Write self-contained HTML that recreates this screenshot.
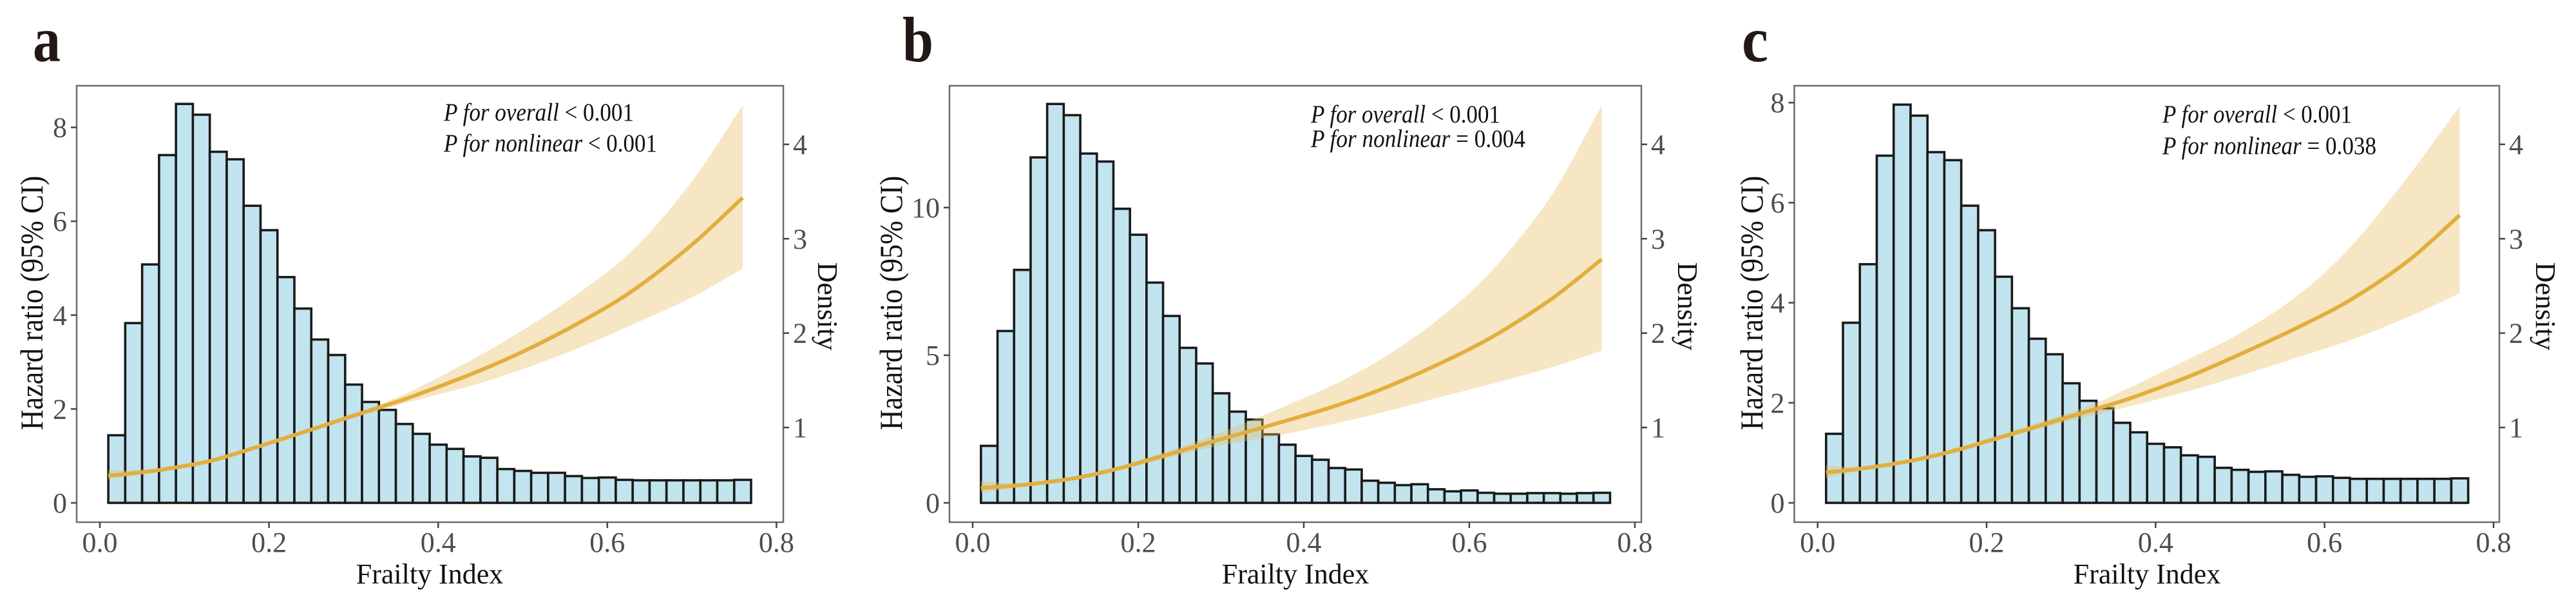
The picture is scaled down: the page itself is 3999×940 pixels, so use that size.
<!DOCTYPE html>
<html lang="en">
<head>
<meta charset="utf-8">
<title>Frailty Index hazard ratio panels</title>
<style>
html,body{margin:0;padding:0;background:#fff;width:3999px;height:940px;overflow:hidden}
svg{display:block}
text{font-family:"Liberation Serif",serif}
.letter{font-size:100px;font-weight:bold;fill:#231815}
.title{font-size:44px;fill:#111}
.note{font-size:39px;fill:#111}
.tick{font-size:44px;fill:#4d4d4d}
</style>
</head>
<body>
<svg id="chart" width="3999" height="940" viewBox="0 0 3999 940" xmlns="http://www.w3.org/2000/svg">
  <rect x="0" y="0" width="3999" height="940" fill="#fff"/>

  <g id="panel-a">
    <text class="letter" x="51" y="95" textLength="43" lengthAdjust="spacingAndGlyphs">a</text>
    <text class="title" x="667" y="905" text-anchor="middle">Frailty Index</text>
    <text class="title" transform="translate(66,470) rotate(-90) scale(1,1.12)" text-anchor="middle">Hazard ratio (95% CI)</text>
    <text class="title" transform="translate(1270,475) rotate(90)" text-anchor="middle">Density</text>
  </g>

  <g id="panel-b">
    <text class="letter" x="1401" y="95" textLength="48" lengthAdjust="spacingAndGlyphs">b</text>
    <text class="title" x="2011" y="905" text-anchor="middle">Frailty Index</text>
    <text class="title" transform="translate(1400,470) rotate(-90) scale(1,1.12)" text-anchor="middle">Hazard ratio (95% CI)</text>
    <text class="title" transform="translate(2605,475) rotate(90)" text-anchor="middle">Density</text>
  </g>

  <g id="panel-c">
    <text class="letter" x="2704" y="95" textLength="41" lengthAdjust="spacingAndGlyphs">c</text>
    <text class="title" x="3333" y="905" text-anchor="middle">Frailty Index</text>
    <text class="title" transform="translate(2736,470) rotate(-90) scale(1,1.12)" text-anchor="middle">Hazard ratio (95% CI)</text>
    <text class="title" transform="translate(3937,475) rotate(90)" text-anchor="middle">Density</text>
  </g>
</svg>

<script>
// ---------- data ----------
const binStarts = [0.01,0.03,0.05,0.07,0.09,0.11,0.13,0.15,0.17,0.19,0.21,0.23,0.25,0.27,0.29,0.31,0.33,0.35,0.37,0.39,0.41,0.43,0.45,0.47,0.49,0.51,0.53,0.55,0.57,0.59,0.61,0.63,0.65,0.67,0.69,0.71,0.73,0.75];
const binWidth = 0.02;

const histA = [1.44,3.83,5.08,7.41,8.50,8.27,7.48,7.32,6.33,5.81,4.81,4.14,3.48,3.15,2.52,2.15,1.98,1.68,1.47,1.24,1.15,0.99,0.96,0.72,0.68,0.64,0.64,0.57,0.53,0.54,0.49,0.48,0.48,0.48,0.48,0.48,0.48,0.49];
const histB = [1.93,5.82,7.89,11.70,13.51,13.13,11.83,11.56,9.96,9.08,7.46,6.33,5.25,4.72,3.71,3.09,2.82,2.32,1.97,1.59,1.46,1.18,1.13,0.75,0.68,0.60,0.63,0.46,0.39,0.42,0.34,0.31,0.31,0.33,0.33,0.31,0.33,0.34];
const histC = [1.38,3.60,4.77,6.94,7.96,7.74,7.01,6.85,5.94,5.45,4.52,3.89,3.28,2.97,2.39,2.04,1.89,1.60,1.41,1.18,1.11,0.95,0.92,0.70,0.66,0.62,0.63,0.56,0.52,0.53,0.50,0.48,0.48,0.48,0.48,0.48,0.48,0.49];

const curveFrailty = [0.01,0.05,0.09,0.13,0.17,0.21,0.25,0.29,0.33,0.37,0.44,0.50,0.57,0.63,0.70,0.76];

const meanA  = [0.58,0.65,0.755,0.89,1.10,1.33,1.56,1.80,2.03,2.27,2.75,3.22,3.87,4.52,5.50,6.50];
const upperA = [0.69,0.71,0.78,0.92,1.13,1.36,1.60,1.85,2.09,2.40,3.05,3.68,4.52,5.38,6.85,8.47];
const lowerA = [0.50,0.61,0.73,0.86,1.07,1.30,1.52,1.75,1.97,2.17,2.50,2.85,3.33,3.80,4.38,4.99];

const meanB  = [0.51,0.58,0.70,0.87,1.12,1.43,1.75,2.08,2.39,2.71,3.30,3.92,4.79,5.66,6.92,8.25];
const upperB = [0.74,0.66,0.74,0.92,1.18,1.52,1.88,2.28,2.72,3.19,4.05,4.98,6.38,7.95,10.45,13.46];
const lowerB = [0.35,0.50,0.66,0.82,1.06,1.34,1.62,1.88,2.09,2.29,2.70,3.10,3.62,4.05,4.60,5.15];

const meanC  = [0.61,0.68,0.78,0.91,1.08,1.28,1.48,1.68,1.88,2.09,2.53,2.97,3.52,4.05,4.85,5.75];
const upperC = [0.75,0.72,0.81,0.94,1.12,1.33,1.54,1.76,2.00,2.31,2.88,3.39,4.17,5.10,6.55,7.93];
const lowerC = [0.49,0.64,0.75,0.88,1.04,1.23,1.42,1.60,1.76,1.93,2.24,2.54,2.92,3.25,3.72,4.19];

const xTickValues = [0.0,0.2,0.4,0.6,0.8];
const xTickLabels = ["0.0","0.2","0.4","0.6","0.8"];
const densityTicks = [1,2,3,4];
const yTicksA = [0,2,4,6,8];
const yTicksB = [0,5,10];
const yTicksC = [0,2,4,6,8];

const noteOverallA = " < 0.001";
const noteNonlinearA = " < 0.001";
const noteOverallB = " < 0.001";
const noteNonlinearB = " = 0.004";
const noteOverallC = " < 0.001";
const noteNonlinearC = " = 0.038";

// ---------- layout ----------
const NS = "http://www.w3.org/2000/svg";
const frameTop = 133, frameBottom = 810, baseY = 780;

function make(tag, attrs, parent) {
  const el = document.createElementNS(NS, tag);
  for (const k in attrs) el.setAttribute(k, attrs[k]);
  parent.appendChild(el);
  return el;
}
function xAxis(x0, perUnit) { return v => x0 + v * perUnit; }
function yAxis(perUnit) { return v => baseY - v * perUnit; }
function densityAxis(v) { return 809.5 - 146.4 * v; }

// Smooth curve through the given screen points (cubic Hermite segments).
function curveSegments(xs, ys) {
  const n = xs.length;
  const slope = i => {
    const a = Math.max(0, i - 1), b = Math.min(n - 1, i + 1);
    return (ys[b] - ys[a]) / (xs[b] - xs[a]);
  };
  let d = "";
  for (let i = 0; i < n - 1; i++) {
    const h = xs[i + 1] - xs[i];
    const c1x = xs[i] + h / 3, c1y = ys[i] + slope(i) * h / 3;
    const c2x = xs[i + 1] - h / 3, c2y = ys[i + 1] - slope(i + 1) * h / 3;
    d += " C" + c1x.toFixed(1) + " " + c1y.toFixed(1) + " " + c2x.toFixed(1) + " " + c2y.toFixed(1) + " " + xs[i + 1].toFixed(1) + " " + ys[i + 1].toFixed(1);
  }
  return d;
}

function drawPanel(cfg) {
  const g = document.getElementById(cfg.id);
  const X = xAxis(cfg.x0, cfg.sx);
  const Y = yAxis(cfg.sy);

  const frame = make("rect", {x: cfg.left, y: frameTop, width: cfg.right - cfg.left, height: frameBottom - frameTop, fill: "none", stroke: "#6b6b6b", "stroke-width": 2.5}, g);
  
  

  // x axis
  xTickValues.forEach((v, i) => {
    const t = make("line", {x1: X(v), x2: X(v), y1: frameBottom, y2: frameBottom + 9, stroke: "#444", "stroke-width": 2.5}, g);
    
    
    const l = make("text", {class: "tick", x: X(v), y: 856, "text-anchor": "middle"}, g);
    
    
    l.textContent = xTickLabels[i];
  });

  // left axis
  cfg.yTicks.forEach(v => {
    const t = make("line", {x1: cfg.left - 9, x2: cfg.left, y1: Y(v), y2: Y(v), stroke: "#444", "stroke-width": 2.5}, g);
    
    
    const l = make("text", {class: "tick", x: cfg.left - 15, y: Y(v) + 15, "text-anchor": "end"}, g);
    
    
    l.textContent = String(v);
  });

  // right axis
  densityTicks.forEach(v => {
    const t = make("line", {x1: cfg.right, x2: cfg.right + 9, y1: densityAxis(v), y2: densityAxis(v), stroke: "#444", "stroke-width": 2.5}, g);
    
    
    const l = make("text", {class: "tick", x: cfg.right + 15, y: densityAxis(v) + 15}, g);
    
    
    l.textContent = String(v);
  });

  // histogram
  cfg.hist.forEach((v, i) => {
    const x1 = X(binStarts[i]), x2 = X(binStarts[i] + binWidth);
    const b = make("rect", {x: x1, y: Y(v), width: x2 - x1, height: baseY - Y(v), fill: "#c1e4ef", stroke: "#1a1a1a", "stroke-width": 3.6}, g);
    
    
  });

  // confidence band
  const xs = curveFrailty.map(X);
  const up = cfg.upper.map(Y);
  const lo = cfg.lower.map(Y);
  const rxs = xs.slice().reverse();
  const rlo = lo.slice().reverse();
  const bandD = "M" + xs[0].toFixed(1) + " " + up[0].toFixed(1) + curveSegments(xs, up) +
    " L" + rxs[0].toFixed(1) + " " + rlo[0].toFixed(1) + curveSegments(rxs, rlo) + " Z";
  const band = make("path", {d: bandD, fill: "rgb(232,190,100)", "fill-opacity": 0.38, stroke: "none"}, g);
  
  

  // mean curve
  const ym = cfg.mean.map(Y);
  const lineD = "M" + xs[0].toFixed(1) + " " + ym[0].toFixed(1) + curveSegments(xs, ym);
  const line = make("path", {d: lineD, fill: "none", stroke: "#e2ae3e", "stroke-width": 6, "stroke-linejoin": "round"}, g);
  
  

  // p-value notes
  [[cfg.note1, "P for overall", cfg.n1y, cfg.n1w], [cfg.note2, "P for nonlinear", cfg.n2y, cfg.n2w]].forEach(n => {
    const t = make("text", {class: "note", x: cfg.nx, y: n[2], textLength: n[3], lengthAdjust: "spacingAndGlyphs"}, g);
    
    
    const it = make("tspan", {"font-style": "italic"}, t);
    it.textContent = n[1];
    const rest = make("tspan", {}, t);
    rest.textContent = n[0];
  });
}

drawPanel({id: "panel-a", left: 119, right: 1216, x0: 155, sx: 1313, sy: 72.8, yTicks: yTicksA,
  hist: histA, mean: meanA, upper: upperA, lower: lowerA,
  note1: noteOverallA, note2: noteNonlinearA, nx: 689, n1y: 187, n2y: 235, n1w: 295, n2w: 331});
drawPanel({id: "panel-b", left: 1474, right: 2548, x0: 1510, sx: 1285, sy: 45.8, yTicks: yTicksB,
  hist: histB, mean: meanB, upper: upperB, lower: lowerB,
  note1: noteOverallB, note2: noteNonlinearB, nx: 2035, n1y: 190, n2y: 228, n1w: 294, n2w: 333});
drawPanel({id: "panel-c", left: 2785.5, right: 3880, x0: 2821.7, sx: 1311.6, sy: 77.6, yTicks: yTicksC,
  hist: histC, mean: meanC, upper: upperC, lower: lowerC,
  note1: noteOverallC, note2: noteNonlinearC, nx: 3357, n1y: 190, n2y: 239, n1w: 294, n2w: 332});
</script>
</body>
</html>
